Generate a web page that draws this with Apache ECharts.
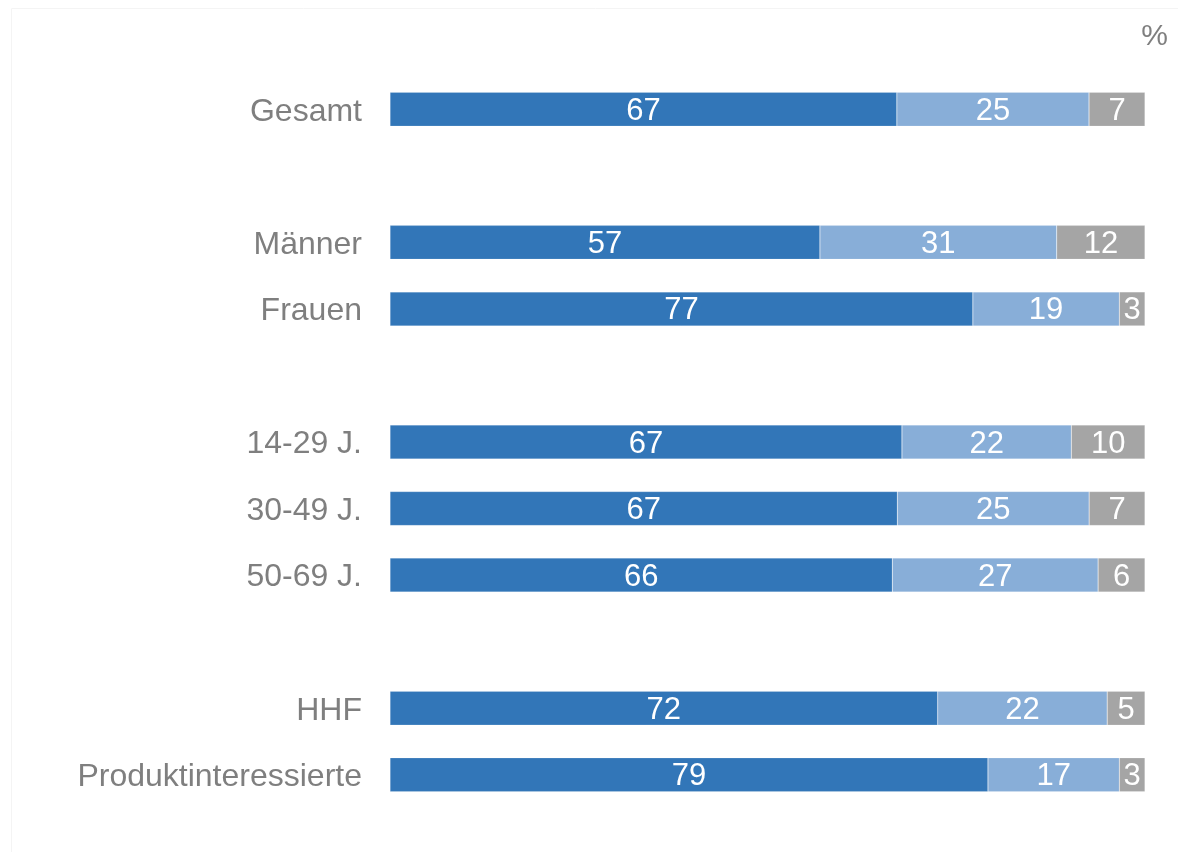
<!DOCTYPE html>
<html>
<head>
<meta charset="utf-8">
<script src="https://cdn.jsdelivr.net/npm/echarts@6/dist/echarts.min.js"></script>
<style>
html,body{margin:0;padding:0;background:#fff;}
#c{width:1178px;height:852px;}
</style>
</head>
<body>
<div id="c"></div>
<script>
// Categories (empty strings are spacer rows)
const categories = ['Gesamt', '', 'Männer', 'Frauen', '', '14-29 J.', '30-49 J.', '50-69 J.', '', 'HHF', 'Produktinteressierte'];
// Series values (percent; null = spacer)
const seriesA = [67.0, null, 57.0, 77.2, null, 67.4, 67.2, 66.4, null, 72.4, 79.2];
const seriesB = [25.4, null, 31.4, 19.4, null, 22.3, 25.4, 27.2, null, 22.4, 17.4];
const seriesC = [7.4, null, 11.7, 3.4, null, 9.7, 7.4, 6.2, null, 5.0, 3.4];
const unitLabel = '%';

const FONT = 'Liberation Sans';
const colors = ['#3276b8', '#88aed8', '#a5a5a5'];
const raw = [seriesA, seriesB, seriesC];
const totals = categories.map((_, i) => raw.reduce((s, arr) => s + (arr[i] || 0), 0));

const chart = echarts.init(document.getElementById('c'));
chart.setOption({
  animation: false,
  grid: { left: 390, right: 33, top: 76, bottom: 44, containLabel: false },
  graphic: [
    {
      type: 'rect', left: 9, top: 6, silent: true, z: -10,
      shape: { width: 1180, height: 860 },
      style: { fill: 'none', stroke: '#f4f4f4', lineWidth: 1 }
    },
    {
      type: 'text', right: 10, top: 22,
      style: { text: unitLabel, fill: '#7f7f7f', fontSize: 30, fontFamily: FONT }
    }
  ],
  xAxis: { type: 'value', min: 0, max: 100, show: false },
  yAxis: {
    type: 'category', data: categories, inverse: true,
    axisLine: { show: false }, axisTick: { show: false },
    axisLabel: {
      color: '#7f7f7f', fontSize: 32, fontFamily: FONT, margin: 28,
      formatter: v => v ? '{a|' + v + '}' : '',
      rich: { a: { color: '#7f7f7f', fontSize: 32, fontFamily: FONT, padding: [5, 0, 0, 0] } }
    }
  },
  series: raw.map((arr, si) => ({
    type: 'bar', stack: 'total', barWidth: 34,
    data: arr.map((v, i) => v == null ? '-' : { value: v / totals[i] * 100, raw: v }),
    itemStyle: { color: colors[si], borderColor: 'rgba(255,255,255,0.35)', borderWidth: 0.5 },
    label: {
      show: true, position: 'inside', color: '#fff', fontSize: 31,
      fontFamily: FONT, offset: [0, 2],
      formatter: p => p.data && p.data.raw != null ? String(Math.round(p.data.raw)) : ''
    }
  }))
});
</script>
</body>
</html>
